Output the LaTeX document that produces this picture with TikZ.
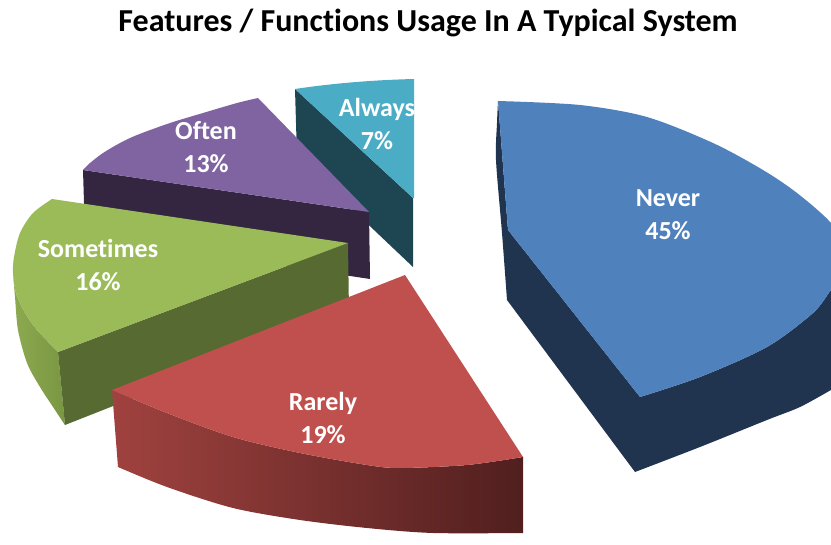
\documentclass[tikz,border=0pt]{standalone}
\usepackage{fontspec}
\setmainfont{Carlito}[Ligatures={NoCommon}]
\definecolor{nevertop}{RGB}{79,129,189}
\definecolor{neverside}{RGB}{32,52,80}
\definecolor{rarelytop}{RGB}{192,80,77}
\definecolor{rarelyleft}{RGB}{160,66,63}
\definecolor{rarelyright}{RGB}{80,31,30}
\definecolor{sometimestop}{RGB}{155,187,89}
\definecolor{sometimesside}{RGB}{86,106,49}
\definecolor{sometimesleft}{RGB}{140,170,80}
\definecolor{sometimesright}{RGB}{122,150,66}
\definecolor{oftentop}{RGB}{128,100,162}
\definecolor{oftenside}{RGB}{52,38,65}
\definecolor{alwaystop}{RGB}{75,172,198}
\definecolor{alwaysside}{RGB}{30,70,82}
\newcommand\pielabelstyle{\fontsize{26}{33}\selectfont\bfseries}
\newcommand\pietitlestyle{\fontsize{32}{37}\selectfont\bfseries}
\tikzset{
  pielabel/.style={text=white, align=center, font=\pielabelstyle},
  pietitle/.style={text=black, font=\pietitlestyle},
}

\begin{document}
\begin{tikzpicture}[x=1pt, y=-1pt]
    \clip (0, 0) rectangle (831, 545) ;
    \node[pietitle] (title) at (428, 23) {Features / Functions Usage In A Typical System} ;
    % Always
    \fill[alwaysside] (295, 89) -- (413, 198) -- (413, 267) -- (297, 157) -- cycle ;
    \fill[alwaystop] (295, 89) .. controls (335, 83) and (375, 80) .. (414, 79) -- (414, 198) -- (413, 198) -- cycle ;
    % Often
    \fill[oftenside] (83, 170) -- (369, 212) -- (370, 279) -- (85, 236) -- cycle ;
    \fill[oftentop] (369, 212) -- (83, 170) -- plot[smooth] coordinates {(83, 170) (90, 163) (103, 153) (120, 143) (137, 135) (170, 123) (203, 113) (237, 103) (258, 98)} -- cycle ;
    % Sometimes
    \shade[left color=sometimesleft, right color=sometimesright] plot[smooth] coordinates {(13, 273) (16, 293) (25, 313) (37, 330) (58, 352)} -- (65, 425) -- plot[smooth] coordinates {(65, 425) (57, 413) (40, 387) (27, 363) (18, 330) (15, 297) (13, 273)} -- cycle ;
    \fill[sometimesside] (58, 352) -- (348, 243) -- (349, 313) -- (65, 425) -- cycle ;
    \fill[sometimestop] (348, 243) -- (52, 199) -- plot[smooth] coordinates {(52, 199) (33, 213) (20, 233) (14, 257) (13, 273) (16, 293) (25, 313) (37, 330) (58, 352)} -- cycle ;
    % Never
    \fill[neverside] (498, 101) -- plot[smooth] coordinates {(498, 101) (497, 123) (496, 160) (502, 233) (507, 300)} -- (635, 472) -- plot[smooth] coordinates {(635, 472) (700, 447) (767, 420) (800, 407) (831, 390) (845, 382)} -- (845, 280) -- plot[smooth] coordinates {(845, 275) (831, 290) (813, 313) (767, 347) (700, 377) (640, 397)} -- (508, 230) -- cycle ;
    \fill[nevertop] (508, 230) -- (498, 101) -- plot[smooth] coordinates {(498, 101) (580, 105) (647, 117) (713, 143) (763, 170) (797, 193) (831, 223) (845, 250) (845, 270) (831, 290) (813, 313) (767, 347) (700, 377) (640, 397)} -- cycle ;
    % Rarely
    \shade[left color=rarelyleft, right color=rarelyright] plot[smooth] coordinates {(112, 390) (167, 413) (233, 437) (300, 453) (367, 465) (400, 468) (467, 465) (523, 457)} -- (523, 533) -- plot[smooth] coordinates {(523, 533) (433, 533) (367, 528) (300, 520) (233, 508) (167, 487) (118, 467)} -- cycle ;
    \fill[rarelytop] (405, 275) -- (112, 390) -- plot[smooth] coordinates {(112, 390) (167, 413) (233, 437) (300, 453) (367, 465) (400, 468) (467, 465) (523, 457)} -- cycle ;
    % labels
    \node[pielabel] (never) at (668, 215) {Never\\45\%} ;
    \node[pielabel] (rarely) at (323, 418) {Rarely\\19\%} ;
    \node[pielabel] (sometimes) at (98, 265) {Sometimes\\16\%} ;
    \node[pielabel] (often) at (206, 147) {Often\\13\%} ;
    \begin{scope}
      \clip (330, 80) rectangle (414.5, 160) ; % cut at the slice edge
      \node[pielabel] (always) at (377, 124) {Always\\7\%} ;
    \end{scope}
  \end{tikzpicture}
\end{document}
